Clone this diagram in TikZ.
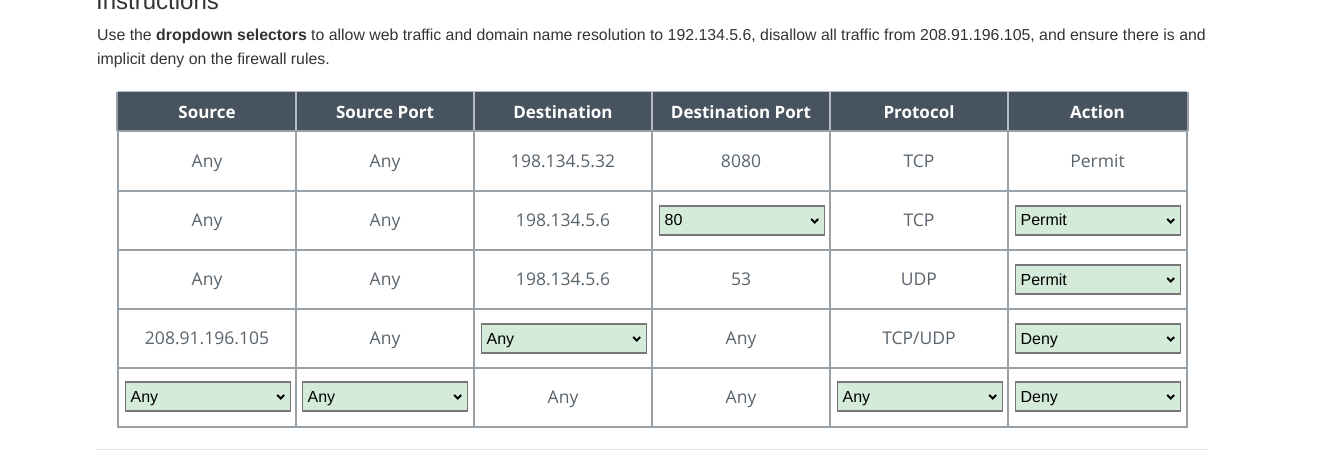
\documentclass[tikz,border=0pt]{standalone}
\usepackage{fontspec}
\setmainfont{Open Sans}
\newfontfamily\ddfont{Liberation Sans}
\newfontfamily\instrfont{Liberation Sans}
\definecolor{hdr}{HTML}{47535E}
\definecolor{grid}{HTML}{98A1A8}
\definecolor{hgrid}{HTML}{B4BCC2}
\definecolor{celltxt}{HTML}{59636C}
\definecolor{ddfill}{HTML}{D4EBDA}
\definecolor{ddline}{HTML}{767676}
\definecolor{instr}{HTML}{333333}
\definecolor{hrline}{HTML}{E2E2E2}
\tikzset{
  celltext/.style={text=celltxt, font=\fontsize{17.5}{20}\selectfont, inner sep=0pt, text height=17.5pt, text depth=4pt},
  hdrtext/.style={text=white, font=\fontsize{17}{20}\selectfont\bfseries, inner sep=0pt, text height=16.5pt, text depth=4pt},
  ddbox/.style={draw=ddline, line width=1.2pt, fill=ddfill, minimum width=165pt, minimum height=29pt,
    text width=155pt, align=left, inner xsep=4pt, inner ysep=0pt, anchor=west, text height=14.5pt, text depth=3.5pt,
    font=\ddfont\fontsize{16}{18}\selectfont, text=black},
  chev/.style={line width=2pt, black, line cap=butt, line join=miter}
}
\newcommand{\dropdown}[4]{% name, xleft, ycenter, text
  \node[ddbox] (#1) at (#2,#3) {#4};
  \draw[chev] ([xshift=-14pt,yshift=1.5pt]#1.east) -- ([xshift=-10.5pt,yshift=-2pt]#1.east) -- ([xshift=-7pt,yshift=1.5pt]#1.east);
}
\begin{document}
\begin{tikzpicture}[x=1pt,y=-1pt]
\useasboundingbox (0,0) rectangle (1324,454);
\clip (0,0) rectangle (1324,454);
% heading and instructions
\node[anchor=base west, inner sep=0pt, text=instr, font=\instrfont\fontsize{24}{28}\selectfont] (heading) at (96,10) {Instructions};
\node[anchor=base west, inner sep=0pt, text=instr, font=\instrfont\fontsize{15.85}{20}\selectfont] (line1) at (97,40.5)
  {Use the \textbf{dropdown selectors} to allow web traffic and domain name resolution to 192.134.5.6, disallow all traffic from 208.91.196.105, and ensure there is and};
\node[anchor=base west, inner sep=0pt, text=instr, font=\instrfont\fontsize{15.85}{20}\selectfont] (line2) at (97,64.5)
  {implicit deny on the firewall rules.};
% table header
\fill[hdr] (118,92) rectangle (1187,131);
\foreach \x in {296,474,652,830,1008} \draw[hgrid, line width=2pt] (\x,92) -- (\x,131);
\draw[hgrid, line width=1pt] (118,92) -- (1187,92);
% body grid
\draw[grid, line width=2pt] (118,131) rectangle (1187,427);
\foreach \y in {191,250,309,368} \draw[grid, line width=2pt] (118,\y) -- (1187,\y);
\foreach \x in {296,474,652,830,1008} \draw[grid, line width=2pt] (\x,131) -- (\x,427);
\draw[grid, line width=1.5pt] (117,92) -- (117,131);
\draw[grid, line width=1.5pt] (1188,92) -- (1188,131);
% header texts
\node[hdrtext] (h1) at (207,112) {Source};
\node[hdrtext] (h2) at (385,112) {Source Port};
\node[hdrtext] (h3) at (563,112) {Destination};
\node[hdrtext] (h4) at (741,112) {Destination Port};
\node[hdrtext] (h5) at (919,112) {Protocol};
\node[hdrtext] (h6) at (1097.5,112) {Action};
% row 1
\node[celltext] (r1c1) at (207,161) {Any};
\node[celltext] (r1c2) at (385,161) {Any};
\node[celltext] (r1c3) at (563,161) {198.134.5.32};
\node[celltext] (r1c4) at (741,161) {8080};
\node[celltext] (r1c5) at (919,161) {TCP};
\node[celltext] (r1c6) at (1097.5,161) {Permit};
% row 2
\node[celltext] (r2c1) at (207,220) {Any};
\node[celltext] (r2c2) at (385,220) {Any};
\node[celltext] (r2c3) at (563,220) {198.134.5.6};
\dropdown{r2c4}{659}{220.5}{80}
\node[celltext] (r2c5) at (919,220) {TCP};
\dropdown{r2c6}{1015}{220.5}{Permit}
% row 3
\node[celltext] (r3c1) at (207,279) {Any};
\node[celltext] (r3c2) at (385,279) {Any};
\node[celltext] (r3c3) at (563,279) {198.134.5.6};
\node[celltext] (r3c4) at (741,279) {53};
\node[celltext] (r3c5) at (919,279) {UDP};
\dropdown{r3c6}{1015}{279.5}{Permit}
% row 4
\node[celltext] (r4c1) at (207,338) {208.91.196.105};
\node[celltext] (r4c2) at (385,338) {Any};
\dropdown{r4c3}{481}{338.5}{Any}
\node[celltext] (r4c4) at (741,338) {Any};
\node[celltext] (r4c5) at (919,338) {TCP/UDP};
\dropdown{r4c6}{1015}{338.5}{Deny}
% row 5
\dropdown{r5c1}{125}{396.5}{Any}
\dropdown{r5c2}{302}{396.5}{Any}
\node[celltext] (r5c3) at (563,397) {Any};
\node[celltext] (r5c4) at (741,397) {Any};
\dropdown{r5c5}{837}{396.5}{Any}
\dropdown{r5c6}{1015}{396.5}{Deny}
% bottom rule
\draw[hrline, line width=1.2pt] (97,449.5) -- (1208,449.5);
\end{tikzpicture}
\end{document}
